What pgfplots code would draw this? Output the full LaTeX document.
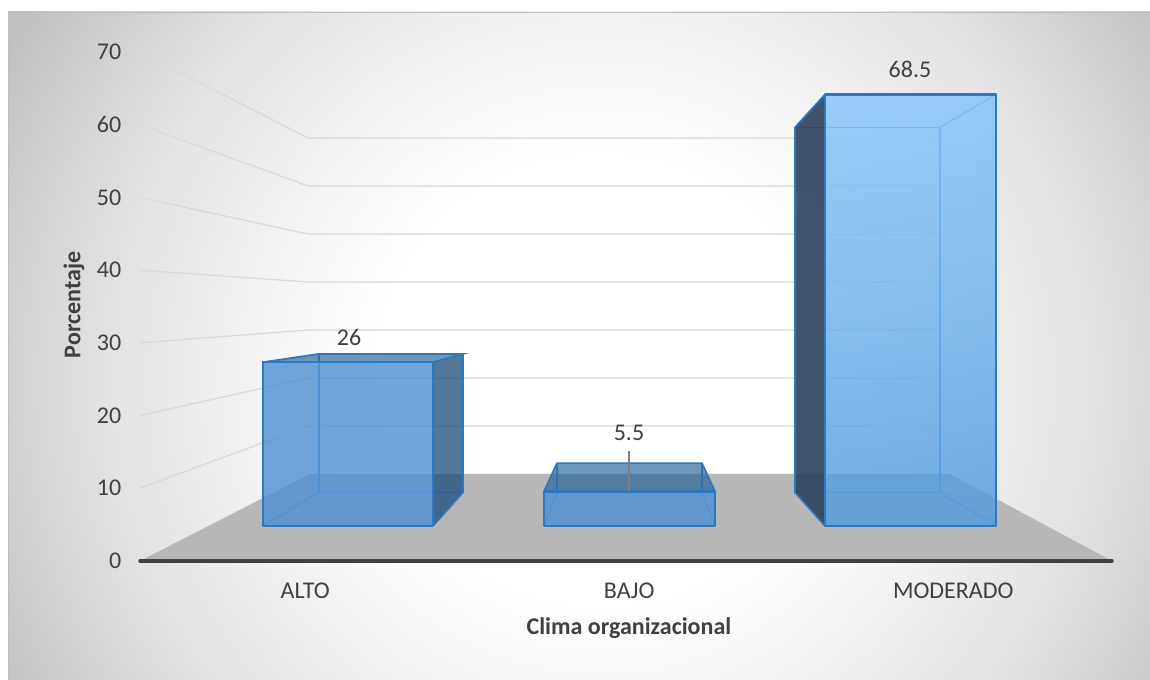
\documentclass[border=0pt]{standalone}
\usepackage{pgfplots}
\pgfplotsset{compat=1.18}
\usepackage{fontspec}
\setmainfont{Carlito}
\definecolor{txt}{RGB}{64,64,64}
\definecolor{floorgrey}{RGB}{183,183,183}
\definecolor{gridgrey}{RGB}{217,217,217}
\definecolor{faceblue}{RGB}{76,144,210}
\definecolor{edgeblue}{RGB}{46,120,192}
\definecolor{inneredge}{RGB}{85,150,220}
\definecolor{sideblue}{RGB}{28,75,122}
\definecolor{topblue}{RGB}{30,95,150}
\definecolor{sidedark}{RGB}{44,66,94}
\definecolor{panelline}{RGB}{190,190,190}
\definecolor{axisdark}{RGB}{64,64,64}
\definecolor{leader}{RGB}{127,127,127}
\definecolor{glowa}{RGB}{242,242,242}
\definecolor{glowb}{RGB}{228,228,228}
\definecolor{glowc}{RGB}{215,215,215}
\definecolor{glowd}{RGB}{193,193,193}
\pgfdeclareradialshading{panelglow}{\pgfpoint{0bp}{0bp}}{%
  color(0bp)=(white);color(5.5bp)=(white);
  color(9bp)=(glowa);
  color(12bp)=(glowb);
  color(14bp)=(glowc);
  color(17bp)=(glowd);
  color(100bp)=(glowd)}
\newcommand{\lblfont}{\fontsize{18pt}{21pt}\selectfont}
% args: front left, front right, back left, back right, value
% front plane: base 526, 6.3 px per unit; back plane: base 492.5, 5.33 px per unit
\newcommand{\barwire}[5]{%
  \pgfmathsetmacro{\ft}{526-6.3*#5}%
  \pgfmathsetmacro{\bt}{492.5-5.33*#5}%
  \addplot[inneredge,line width=.9pt,forget plot] coordinates {(#3,492.5)(#4,492.5)(#4,\bt)(#3,\bt)} --cycle;
  \addplot[inneredge,line width=.9pt,forget plot] coordinates {(#1,526)(#3,492.5)};
  \addplot[inneredge,line width=.9pt,forget plot] coordinates {(#2,526)(#4,492.5)};
  \addplot[inneredge,line width=.9pt,forget plot] coordinates {(#1,\ft)(#3,\bt)};
  \addplot[inneredge,line width=.9pt,forget plot] coordinates {(#2,\ft)(#4,\bt)};
}
\newcommand{\barfront}[6]{%
  \pgfmathsetmacro{\ft}{526-6.3*#5}%
  \addplot[draw=edgeblue,line width=1.8pt,line join=round,fill opacity=.8,#6,forget plot]
    coordinates {(#1,526)(#2,526)(#2,\ft)(#1,\ft)} --cycle;
}
\begin{document}
\begin{tikzpicture}
\path[use as bounding box] (0,0) rectangle (862.5pt,510pt);
\begin{axis}[
  at={(0,0)},anchor=south west,
  width=862.5pt,height=510pt,scale only axis,hide axis,
  xmin=0,xmax=1150,ymin=0,ymax=680,y dir=reverse,clip=false,
]
% panel with its soft glow
\begin{scope}
\clip (axis cs:8,12) rectangle (axis cs:1150,680);
\shade[shading=panelglow] (axis cs:-400,-620) rectangle (axis cs:1600,1380);
\end{scope}
\addplot[panelline,line width=.6pt,forget plot] coordinates {(8,680)(8,12)(1150,12)};
% floor
\addplot[draw=none,fill=floorgrey,forget plot] coordinates {(140,561)(310,474)(950,474)(1112,561)} --cycle;
% wall lines, value by value
\pgfplotsinvokeforeach{10,20,30,40,50,60,70}{
  \addplot[gridgrey,line width=.9pt,forget plot] coordinates {(140,561-7.271*#1)(308,474-4.8*#1)(940,474-4.8*#1)};
}
% ALTO
\barwire{263}{433}{319}{463}{26}
\addplot[draw=none,fill=sideblue,fill opacity=.75,forget plot] coordinates {(433,526)(463,492.5)(463,492.5-5.33*26)(433,526-6.3*26)} --cycle;
\addplot[draw=none,fill=topblue,fill opacity=.65,forget plot] coordinates {(263,526-6.3*26)(319,492.5-5.33*26)(463,492.5-5.33*26)(433,526-6.3*26)} --cycle;
\addplot[edgeblue,line width=1.2pt,forget plot] coordinates {(263,526-6.3*26)(319,492.5-5.33*26)(463,492.5-5.33*26)(433,526-6.3*26)};
\addplot[edgeblue,line width=1.2pt,forget plot] coordinates {(433,526)(463,492.5)(463,492.5-5.33*26)};
\barfront{263}{433}{319}{463}{26}{fill=faceblue}
% BAJO
\barwire{544}{715}{557}{702}{5.5}
\addplot[draw=none,fill=topblue,fill opacity=.65,forget plot] coordinates {(544,526-6.3*5.5)(557,492.5-5.33*5.5)(702,492.5-5.33*5.5)(715,526-6.3*5.5)} --cycle;
\addplot[edgeblue,line width=1.2pt,forget plot] coordinates {(544,526-6.3*5.5)(557,492.5-5.33*5.5)(702,492.5-5.33*5.5)(715,526-6.3*5.5)};
\barfront{544}{715}{557}{702}{5.5}{fill=faceblue}
% MODERADO
\barwire{825}{996}{795}{940}{68.5}
\addplot[draw=none,fill=sidedark,fill opacity=.9,forget plot] coordinates {(825,526)(795,492.5)(795,492.5-5.33*68.5)(825,526-6.3*68.5)} --cycle;
\addplot[edgeblue,line width=1.2pt,forget plot] coordinates {(825,526)(795,492.5)(795,492.5-5.33*68.5)(825,526-6.3*68.5)};
\barfront{825}{996}{795}{940}{68.5}{top color={rgb,255:red,130;green,196;blue,251},bottom color={rgb,255:red,79;green,154;blue,222},shading angle=0}
% value labels
\addplot[leader,line width=.9pt,forget plot] coordinates {(629,451)(629,491)};
\node[text=txt,font=\lblfont] at (axis cs:349,337) {26};
\node[text=txt,font=\lblfont] at (axis cs:629,433) {5.5};
\node[text=txt,font=\lblfont] at (axis cs:910,69) {68.5};
\end{axis}
\begin{axis}[
  at={(105pt,89.25pt)},anchor=south west,
  width=729pt,height=381.75pt,scale only axis,clip=false,
  xmin=-0.51,xmax=2.49,ymin=0,ymax=70,
  axis y line*=left,axis x line*=bottom,
  y axis line style={draw=none},
  x axis line style={draw=none},
  ytick={0,10,...,70},xtick={0,1,2},xticklabels={ALTO,BAJO,MODERADO},
  major tick length=0pt,
  /pgf/number format/assume math mode=true,
  tick label style={text=txt,font=\lblfont},
  yticklabel style={xshift=-10.5pt},
  xticklabel style={yshift=-13pt},
  xlabel={Clima organizacional},ylabel={Porcentaje},
  every axis x label/.style={at={(rel axis cs:0.503,0)},anchor=center,yshift=-50pt,text=txt,font=\lblfont\bfseries},
  every axis y label/.style={at={(rel axis cs:0,0.503)},anchor=center,rotate=90,yshift=49.5pt,text=txt,font=\lblfont\bfseries},
]
\addplot[axisdark,line width=2.6pt,line cap=round] coordinates {(-0.51,0)(2.49,0)};
\end{axis}
\end{tikzpicture}
\end{document}
